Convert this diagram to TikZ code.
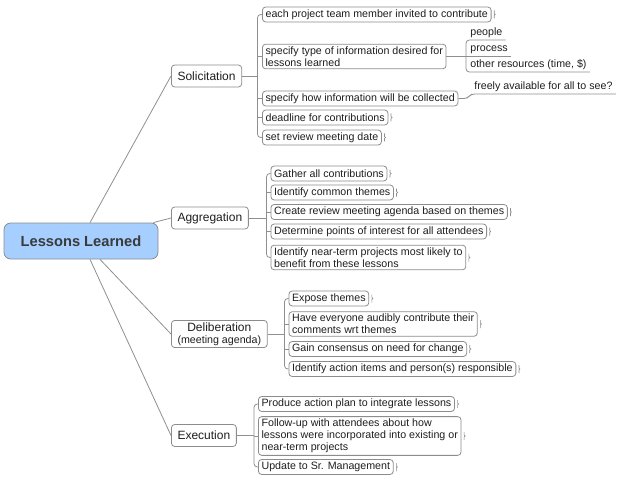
\documentclass[tikz,border=0pt]{standalone}
\usepackage{fontspec}
\setmainfont{Liberation Sans}
\usetikzlibrary{positioning, calc}
\definecolor{colRoot}{HTML}{A6CFFF}
\definecolor{strokeRoot}{HTML}{8A8A8A}
\definecolor{colRootText}{HTML}{3A3A3A}
\definecolor{strokeBox}{HTML}{8C8C8C}
\definecolor{colLink}{HTML}{8F8F8F}
\definecolor{colText}{HTML}{1E1E1E}

\begin{document}
\begin{tikzpicture}[
		x=0.75pt, y=-0.75pt, % pixel grid, y downwards
		% Node Styles
		base/.style={draw=strokeBox, line width=0.6pt, rounded corners=2.5pt, text=colText, anchor=west},
		root/.style={draw=strokeRoot, fill=colRoot, line width=0.6pt, rounded corners=5pt, text=colRootText, font=\fontsize{11}{13}\selectfont\bfseries, minimum width=115.5pt, minimum height=27pt},
		branch/.style={base, font=\fontsize{9}{10}\selectfont, align=center, inner xsep=4.6pt, inner ysep=2pt, minimum height=16.5pt},
		leaf/.style={base, font=\fontsize{8}{9}\selectfont, align=left, inner xsep=2.4pt, inner ysep=1.8pt, minimum height=11.25pt},
		topic/.style={font=\fontsize{8}{9}\selectfont, text=colText, anchor=south west, inner xsep=2.3pt, inner ysep=1.6pt},
		link/.style={draw=colLink, line width=0.6pt, rounded corners=2.5pt},
		tick/.style={draw=colLink, line width=0.5pt}
		]
		\useasboundingbox (0,0) rectangle (618,478);
		
		%% ================= ROOT + MAIN BRANCHES =================
		\node[root] (root) at (81,241) {Lessons Learned};
		\node[branch] (solic) at (171,76) {Solicitation};
		\node[branch] (aggr) at (171,218) {Aggregation};
		\node[branch, inner ysep=1.6pt] (delib) at (171,334) {Deliberation\\[-1pt]{\fontsize{8}{9}\selectfont(meeting agenda)}};
		\node[branch] (exec) at (171,435.5) {Execution};
		
		\draw[link] ([xshift=6.75pt]root.north) -- (solic.west);
		\draw[link] ([xshift=-3.75pt]root.north east) -- (aggr.west);
		\draw[link] ([xshift=14.25pt]root.south) -- (delib.west);
		\draw[link] ([xshift=6.75pt]root.south) -- (exec.west);
		
		%% ================= SOLICITATION =================
		\node[leaf] (sol1) at (262,14.5) {each project team member invited to contribute};
		\node[leaf] (sol2) at (262,56.5) {specify type of information desired for\\lessons learned};
		\node[leaf] (sol3) at (262,98.5) {specify how information will be collected};
		\node[leaf] (sol4) at (262,117.5) {deadline for contributions};
		\node[leaf] (sol5) at (262,137.5) {set review meeting date};
		
		\node[topic] (people) at (467,40) {people};
		\node[topic] (process) at (467,56) {process};
		\node[topic] (other) at (467,72) {other resources (time, \$)};
		\node[topic] (free) at (471,94) {freely available for all to see?};
		
		\coordinate (solbrk) at (257.5,0);
		\coordinate (typebrk) at (466,0);
		
		\draw[link] (solic.east) -- (solbrk |- solic.east);
		\draw[link] (sol1.west) -- (solbrk |- sol1.west) -- (solbrk |- sol5.west) -- (sol5.west);
		\draw[link] (solbrk |- sol2.west) -- (sol2.west);
		\draw[link] (solbrk |- sol3.west) -- (sol3.west);
		\draw[link] (solbrk |- sol4.west) -- (sol4.west);
		
		% Sub-topics
		\draw[link] (sol2.east) -- (typebrk |- sol2.east);
		\draw[link] (people.south east) -- (typebrk |- people.south) -- (typebrk |- other.south) -- (other.south east);
		\draw[link] (typebrk |- process.south) -- (process.south east);
		\draw[link] (sol3.east) -- ++(9,0) -- (free.south west) -- (free.south east);
		
		%% ================= AGGREGATION =================
		\node[leaf] (agg1) at (270.5,173.5) {Gather all contributions};
		\node[leaf] (agg2) at (270.5,192.5) {Identify common themes};
		\node[leaf] (agg3) at (270.5,212) {Create review meeting agenda based on themes};
		\node[leaf] (agg4) at (270.5,231.5) {Determine points of interest for all attendees};
		\node[leaf] (agg5) at (270.5,257.5) {Identify near-term projects most likely to\\benefit from these lessons};
		
		\coordinate (aggbrk) at (266.5,0);
		
		\draw[link] (aggr.east) -- (aggbrk |- aggr.east);
		\draw[link] (agg1.west) -- (aggbrk |- agg1.west) -- (aggbrk |- agg5.west) -- (agg5.west);
		\draw[link] (aggbrk |- agg2.west) -- (agg2.west);
		\draw[link] (aggbrk |- agg3.west) -- (agg3.west);
		\draw[link] (aggbrk |- agg4.west) -- (agg4.west);
		
		%% ================= DELIBERATION =================
		\node[leaf] (del1) at (288.5,298.5) {Expose themes};
		\node[leaf] (del2) at (288.5,324) {Have everyone audibly contribute their\\comments wrt themes};
		\node[leaf] (del3) at (288.5,349) {Gain consensus on need for change};
		\node[leaf] (del4) at (288.5,369) {Identify action items and person(s) responsible};
		
		\coordinate (delbrk) at (284.5,0);
		
		\draw[link] (delib.east) -- (delbrk |- delib.east);
		\draw[link] (del1.west) -- (delbrk |- del1.west) -- (delbrk |- del4.west) -- (del4.west);
		\draw[link] (delbrk |- del2.west) -- (del2.west);
		\draw[link] (delbrk |- del3.west) -- (del3.west);
		
		%% ================= EXECUTION =================
		\node[leaf] (exe1) at (258,404) {Produce action plan to integrate lessons};
		\node[leaf] (exe2) at (258,436) {Follow-up with attendees about how\\lessons were incorporated into existing or\\near-term projects};
		\node[leaf] (exe3) at (258,467) {Update to Sr. Management};
		
		\coordinate (exebrk) at (254,0);
		
		\draw[link] (exec.east) -- (exebrk |- exec.east);
		\draw[link] (exe1.west) -- (exebrk |- exe1.west) -- (exebrk |- exe3.west) -- (exe3.west);
		\draw[link] (exebrk |- exe2.west) -- (exe2.west);
		
		% End ticks on leaves
		\foreach \n in {sol1,sol4,sol5,agg1,agg2,agg3,agg4,agg5,del1,del2,del3,del4,exe1,exe2,exe3}
			\draw[tick] ([xshift=2pt,yshift=3pt]\n.east) -- ([xshift=2pt,yshift=0.7pt]\n.east) -- ([xshift=2.8pt]\n.east) -- ([xshift=2pt,yshift=-0.7pt]\n.east) -- ([xshift=2pt,yshift=-3pt]\n.east);
		
	\end{tikzpicture}
\end{document}
